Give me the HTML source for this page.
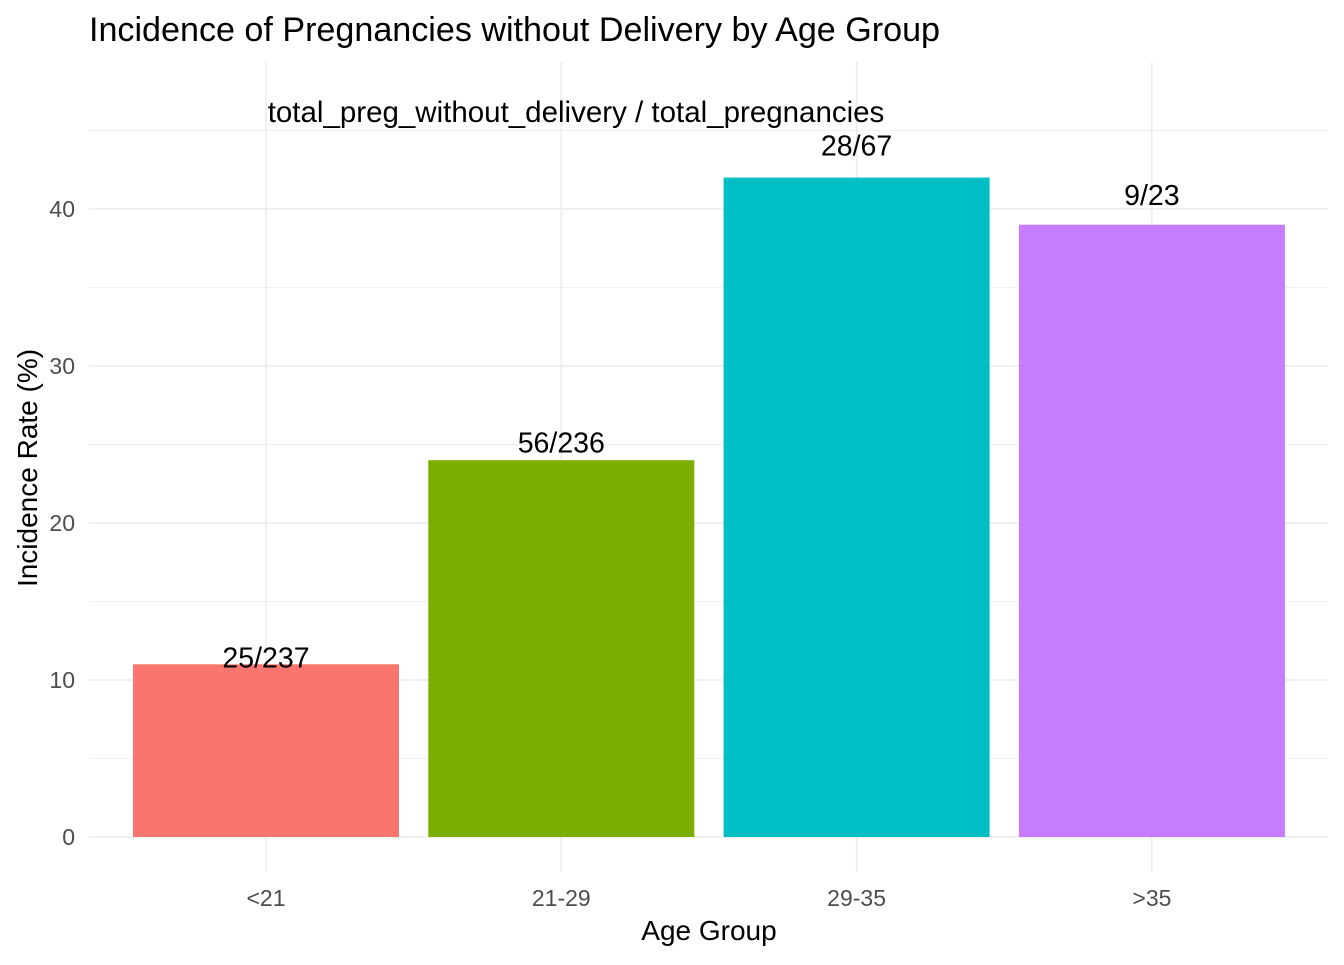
<!DOCTYPE html>
<html><head><meta charset="utf-8"><style>
body{margin:0;background:#fff;}
svg text{font-family:"Liberation Sans",Arial,sans-serif;}
</style></head><body>
<svg id="chart" width="1344" height="960" xmlns="http://www.w3.org/2000/svg">
<text x="89" y="41" font-size="34" fill="#000" textLength="851" lengthAdjust="spacingAndGlyphs">Incidence of Pregnancies without Delivery by Age Group</text>
<g id="grid"></g><g id="bars"></g><g id="labels"></g>
<text x="576" y="122" font-size="29.5" text-anchor="middle" fill="#000">total_preg_without_delivery / total_pregnancies</text>
<text x="709" y="940" font-size="28" text-anchor="middle" fill="#000">Age Group</text>
<text transform="translate(37,468) rotate(-90)" font-size="28" text-anchor="middle" fill="#000">Incidence Rate (%)</text>
</svg>
<script>
const categories=["<21","21-29","29-35",">35"];
const values=[11,24,42,39];
const barLabels=["25/237","56/236","28/67","9/23"];
const labelY=[10.8,24.5,43.4,40.25];
const colors=["#F8766D","#7CAE00","#00BFC4","#C77CFF"];
const yTicks=[0,10,20,30,40];
const yMinor=[5,15,25,35,45];
const NS="http://www.w3.org/2000/svg";
function y(v){return 837-v*15.7;}
function x(i){return 266+i*295.3;}
function mk(tag,attrs,parent,text){const e=document.createElementNS(NS,tag);for(const k in attrs)e.setAttribute(k,attrs[k]);if(text!==undefined)e.textContent=text;document.getElementById(parent).appendChild(e);return e;}
yMinor.forEach(v=>{const l=mk('line',{x1:89,x2:1328,y1:y(v),y2:y(v),stroke:'#f0f0f0','stroke-width':1},'grid');

});
yTicks.forEach(v=>{const l=mk('line',{x1:89,x2:1328,y1:y(v),y2:y(v),stroke:'#ebebeb','stroke-width':1.5},'grid');


const t=mk('text',{x:75,y:y(v)+8,'font-size':23,'text-anchor':'end',fill:'#4d4d4d'},'grid',String(v));

});
categories.forEach((c,i)=>{const l=mk('line',{x1:x(i),x2:x(i),y1:62,y2:872,stroke:'#ebebeb','stroke-width':1.5},'grid');


const t=mk('text',{x:x(i),y:906,'font-size':23,'text-anchor':'middle',fill:'#4d4d4d'},'grid',c);


const b=mk('rect',{x:x(i)-133,y:y(values[i]),width:266,height:y(0)-y(values[i]),fill:colors[i]},'bars');


const lb=mk('text',{x:x(i),y:y(labelY[i]),'font-size':28.5,'text-anchor':'middle',fill:'#000'},'labels',barLabels[i]);

});
</script>
</body></html>
